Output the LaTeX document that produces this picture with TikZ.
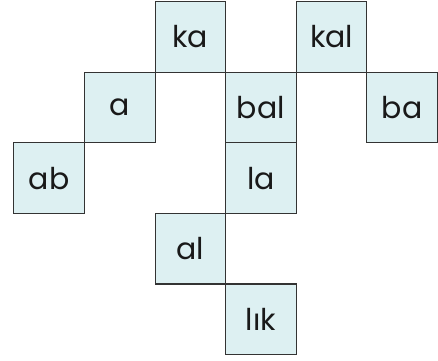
\documentclass[tikz,border=0pt]{standalone}
\usepackage{fontspec}
\setmainfont{Poppins}
\begin{document}
\begin{tikzpicture}[x=1pt,y=-1pt,
  cell/.style={draw=black!80, line width=1.1pt, fill=cellfill, minimum width=70.6pt, minimum height=70.6pt, inner sep=0pt, anchor=north west, font=\fontsize{30}{33}\selectfont, text=black!90}]
\definecolor{cellfill}{HTML}{DDF0F2}
\useasboundingbox (0,0) rectangle (438,360);
\def\cs{70.6}
\def\ox{13.3}
\def\oy{1}
\node[cell] (ka)  at (\ox+2*\cs, \oy+0*\cs) {ka};
\node[cell] (kal) at (\ox+4*\cs, \oy+0*\cs) {kal};
\node[cell] (a)   at (\ox+1*\cs, \oy+1*\cs) {a};
\node[cell] (bal) at (\ox+3*\cs, \oy+1*\cs) {bal};
\node[cell] (ba)  at (\ox+5*\cs, \oy+1*\cs) {ba};
\node[cell] (ab)  at (\ox+0*\cs, \oy+2*\cs) {ab};
\node[cell] (la)  at (\ox+3*\cs, \oy+2*\cs) {la};
\node[cell] (al)  at (\ox+2*\cs, \oy+3*\cs) {al};
\node[cell] (lik) at (\ox+3*\cs, \oy+4*\cs) {lık};
\end{tikzpicture}
\end{document}
